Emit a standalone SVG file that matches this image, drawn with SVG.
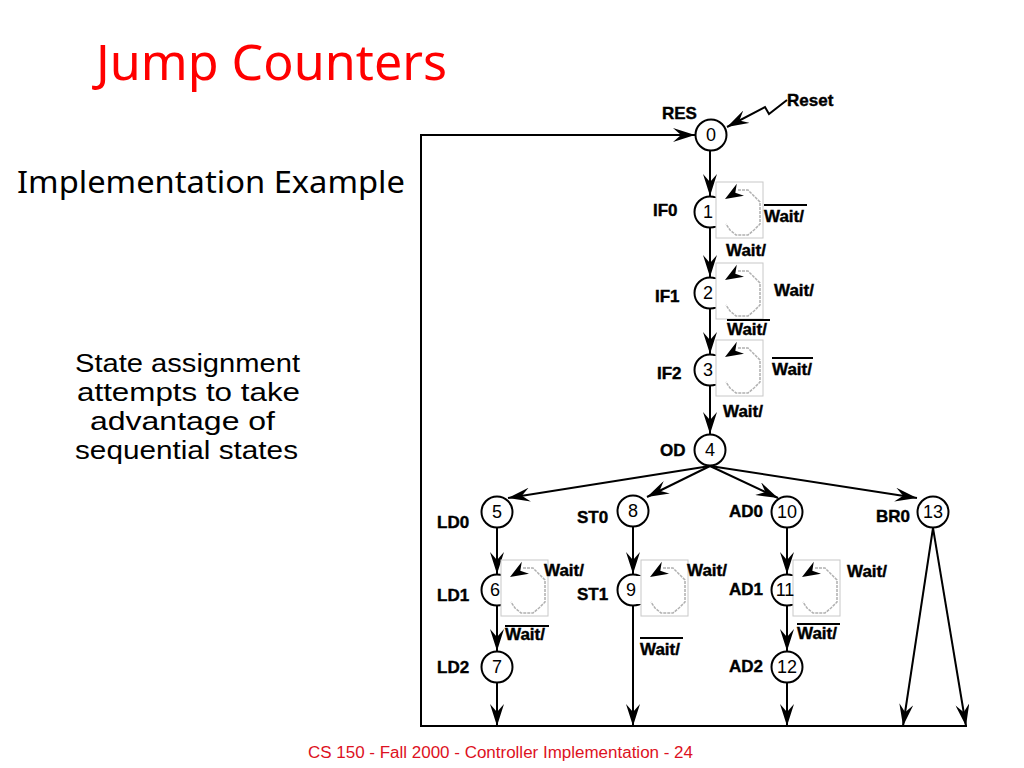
<svg xmlns="http://www.w3.org/2000/svg" width="1024" height="768" viewBox="0 0 1024 768">
<defs>
<style>
.st{fill:#fff;stroke:#000;stroke-width:2}
.num{font-family:"Liberation Sans",Arial,sans-serif;font-size:18px;text-anchor:middle;fill:#000}
.lbl{font-family:"Liberation Sans",Arial,sans-serif;font-size:17px;font-weight:bold;fill:#000;stroke:#000;stroke-width:0.4}
.cn{fill:none;stroke:#000;stroke-width:2}
.ol{stroke:#000;stroke-width:2}
.box{fill:#fff;stroke:#c8c8c8;stroke-width:1}
.lp{fill:none;stroke:#b0b0b0;stroke-width:1.5;stroke-dasharray:3 1}
.big{font-family:"Comic Sans MS","Noto Sans","DejaVu Sans",sans-serif;fill:#000}
.body{font-family:"Comic Sans MS","Liberation Sans",Arial,sans-serif;font-size:25px;fill:#000}
</style>
<marker id="arr" viewBox="0 0 22 14" refX="22" refY="7" markerWidth="22" markerHeight="14" orient="auto" markerUnits="userSpaceOnUse">
<path d="M0,0 L22,7 L0,14 L8,7 Z" fill="#000"/>
</marker>
<g id="loop">
<rect x="1" y="-14" width="6" height="28" fill="#fff"/>
<rect class="box" x="6" y="-30" width="47" height="56"/>
<path class="lp" d="M28,-22 L38,-22 L44,-16 L50,-10 L50,12 L44,18 L38,23 L26,23 L20,18 L16,12"/>
<polygon points="15,-13 26.8,-28.3 25.3,-19.2 34,-16.3" fill="#000"/>
</g>
</defs>
<rect width="1024" height="768" fill="#fff"/>

<text class="big" x="96" y="80" font-size="50" style="fill:#ff0000" textLength="351" lengthAdjust="spacingAndGlyphs">Jump Counters</text>
<text class="big" x="17" y="193" font-size="30" textLength="388" lengthAdjust="spacingAndGlyphs">Implementation Example</text>
<text class="body" x="75" y="372" textLength="225" lengthAdjust="spacingAndGlyphs">State assignment</text>
<text class="body" x="77" y="401" textLength="223" lengthAdjust="spacingAndGlyphs">attempts to take</text>
<text class="body" x="90" y="430" textLength="185" lengthAdjust="spacingAndGlyphs">advantage of</text>
<text class="body" x="75" y="459" textLength="223" lengthAdjust="spacingAndGlyphs">sequential states</text>
<text x="308" y="758" font-family="Liberation Sans,Arial,sans-serif" font-size="16" fill="#dd1122" textLength="385" lengthAdjust="spacingAndGlyphs">CS 150 - Fall 2000 - Controller Implementation - 24</text>

<g id="connectors">
<path class="cn" d="M967,726 H421 V135 H695" marker-end="url(#arr)"/>
<path class="cn" d="M787,100 L769,114 L765,107 L727,127" marker-end="url(#arr)"/>
<line class="cn" x1="710" y1="151" x2="710" y2="196" marker-end="url(#arr)"/>
<line class="cn" x1="710" y1="228" x2="710" y2="277" marker-end="url(#arr)"/>
<line class="cn" x1="710" y1="309" x2="710" y2="354" marker-end="url(#arr)"/>
<line class="cn" x1="710" y1="386" x2="710" y2="434" marker-end="url(#arr)"/>
<line class="cn" x1="710" y1="466" x2="508" y2="498" marker-end="url(#arr)"/>
<line class="cn" x1="710" y1="466" x2="647" y2="497" marker-end="url(#arr)"/>
<line class="cn" x1="710" y1="466" x2="778" y2="498" marker-end="url(#arr)"/>
<line class="cn" x1="710" y1="466" x2="917" y2="498" marker-end="url(#arr)"/>
<line class="cn" x1="497" y1="528" x2="497" y2="574" marker-end="url(#arr)"/>
<line class="cn" x1="497" y1="606" x2="497" y2="651" marker-end="url(#arr)"/>
<line class="cn" x1="497" y1="683" x2="497" y2="726" marker-end="url(#arr)"/>
<line class="cn" x1="633" y1="527" x2="633" y2="574" marker-end="url(#arr)"/>
<line class="cn" x1="633" y1="606" x2="633" y2="726" marker-end="url(#arr)"/>
<line class="cn" x1="787" y1="528" x2="787" y2="574" marker-end="url(#arr)"/>
<line class="cn" x1="787" y1="606" x2="787" y2="651" marker-end="url(#arr)"/>
<line class="cn" x1="787" y1="683" x2="787" y2="726" marker-end="url(#arr)"/>
<line class="cn" x1="933" y1="528" x2="903" y2="726" marker-end="url(#arr)"/>
<line class="cn" x1="933" y1="528" x2="966" y2="726" marker-end="url(#arr)"/>
</g>

<g id="s0"><circle class="st" cx="711" cy="135" r="15.5"/><text class="num" x="711" y="141">0</text><text class="lbl" x="662" y="119">RES</text><text class="lbl" x="787" y="106">Reset</text></g>
<g id="s1"><circle class="st" cx="710" cy="212" r="15.5"/><use href="#loop" x="710" y="212"/><text class="num" x="708" y="218">1</text><text class="lbl" x="653" y="216">IF0</text>
<text class="lbl" x="764" y="222">Wait/</text><line class="ol" x1="764" y1="205" x2="807" y2="205"/><text class="lbl" x="726" y="256">Wait/</text></g>
<g id="s2"><circle class="st" cx="710" cy="293" r="15.5"/><use href="#loop" x="710" y="293"/><text class="num" x="708" y="299">2</text><text class="lbl" x="655" y="302">IF1</text>
<text class="lbl" x="774" y="296">Wait/</text><text class="lbl" x="727" y="335">Wait/</text><line class="ol" x1="727" y1="320" x2="770" y2="320"/></g>
<g id="s3"><circle class="st" cx="710" cy="370" r="15.5"/><use href="#loop" x="710" y="370"/><text class="num" x="708" y="376">3</text><text class="lbl" x="657" y="379">IF2</text>
<text class="lbl" x="772" y="375">Wait/</text><line class="ol" x1="772" y1="358" x2="813" y2="358"/><text class="lbl" x="723" y="417">Wait/</text></g>
<g id="s4"><circle class="st" cx="710" cy="450" r="15.5"/><text class="num" x="710" y="456">4</text><text class="lbl" x="660" y="456">OD</text></g>
<g id="s5"><circle class="st" cx="497" cy="512" r="15.5"/><text class="num" x="497" y="518">5</text><text class="lbl" x="437" y="528">LD0</text></g>
<g id="s6"><circle class="st" cx="497" cy="590" r="15.5"/><use href="#loop" x="495" y="590"/><text class="num" x="495" y="596">6</text><text class="lbl" x="437" y="601">LD1</text>
<text class="lbl" x="544" y="576">Wait/</text><text class="lbl" x="505" y="640">Wait/</text><line class="ol" x1="505" y1="626" x2="549" y2="626"/></g>
<g id="s7"><circle class="st" cx="497" cy="667" r="15.5"/><text class="num" x="497" y="673">7</text><text class="lbl" x="437" y="673">LD2</text></g>
<g id="s8"><circle class="st" cx="633" cy="511" r="15.5"/><text class="num" x="633" y="517">8</text><text class="lbl" x="577" y="523">ST0</text></g>
<g id="s9"><circle class="st" cx="633" cy="590" r="15.5"/><use href="#loop" x="635" y="590"/><text class="num" x="631" y="596">9</text><text class="lbl" x="577" y="600">ST1</text>
<text class="lbl" x="687" y="576">Wait/</text><text class="lbl" x="640" y="655">Wait/</text><line class="ol" x1="640" y1="638" x2="683" y2="638"/></g>
<g id="s10"><circle class="st" cx="787" cy="512" r="15.5"/><text class="num" x="787" y="518">10</text><text class="lbl" x="729" y="517">AD0</text></g>
<g id="s11"><circle class="st" cx="787" cy="590" r="15.5"/><use href="#loop" x="787" y="590"/><text class="num" x="785" y="596">11</text><text class="lbl" x="729" y="595">AD1</text>
<text class="lbl" x="847" y="577">Wait/</text><text class="lbl" x="797" y="639">Wait/</text><line class="ol" x1="797" y1="624" x2="840" y2="624"/></g>
<g id="s12"><circle class="st" cx="787" cy="667" r="15.5"/><text class="num" x="787" y="673">12</text><text class="lbl" x="729" y="672">AD2</text></g>
<g id="s13"><circle class="st" cx="933" cy="512" r="15.5"/><text class="num" x="933" y="518">13</text><text class="lbl" x="876" y="522">BR0</text></g>
</svg>
